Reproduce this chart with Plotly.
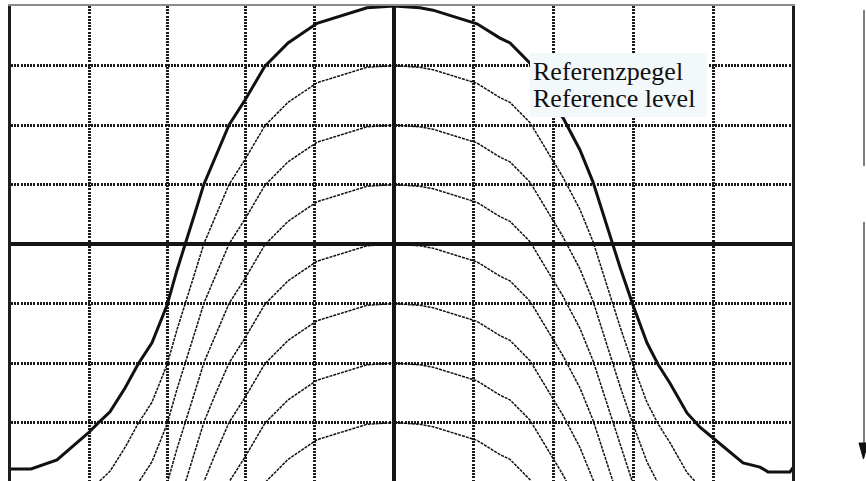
import plotly.graph_objects as go

# Frequency offset from centre, in screen divisions
offset_div = [-4.874, -4.583, -4.255, -3.965, -3.864, -3.737, -3.586, -3.396, -3.232,
              -3.056, -2.866, -2.740, -2.626, -2.513, -2.399, -2.260, -2.083, -1.881,
              -1.629, -1.338, -0.972, -0.341, 0.0, 0.328, 0.492, 1.048, 1.338, 1.465,
              1.717, 2.134, 2.348, 2.513, 2.626, 2.753, 2.854, 3.018, 3.194, 3.333,
              3.485, 3.699, 3.864, 4.028, 4.407, 4.621, 4.722, 5.000, 5.038]
# Level of the thick reference curve, dB
ref_level_db = [-77.8, -77.8, -76.3, -72.9, -71.8, -70.1, -68.2, -64.2, -60.2,
                -56.6, -50.3, -44.4, -39.7, -34.8, -29.9, -25.4, -20.0, -15.8,
                -10.1, -6.2, -2.9, -0.3, 0.0, -0.3, -0.7, -3.0, -5.4, -6.2,
                -9.6, -18.8, -24.2, -29.6, -34.3, -39.3, -43.9, -50.3, -56.6, -60.2,
                -63.4, -68.4, -70.8, -72.6, -76.8, -77.5, -78.3, -78.3, -77.6]
# Attenuation steps of the thin curves, dB below the reference
step_attenuation_db = [10, 20, 30, 40, 50, 60, 70]
# Grid positions
grid_x_div = [-3.851, -2.866, -1.869, -1.010, 1.010, 2.020, 3.018, 4.040]
grid_y_db = [-10, -20, -30, -50, -60, -70]
center_x_div = 0.0
center_y_db = -40
label_lines = ["Referenzpegel", "Reference level"]

fig = go.Figure()
for att in step_attenuation_db:
    fig.add_trace(go.Scatter(
        x=offset_div, y=[v - att for v in ref_level_db], mode="lines",
        line=dict(color="#111111", width=1.5, dash="3px,1px"),
        hoverinfo="skip", showlegend=False))
fig.add_trace(go.Scatter(
    x=offset_div, y=ref_level_db, mode="lines",
    line=dict(color="#111111", width=3), hoverinfo="skip", showlegend=False))

L, R, T, B = 11, 74, 6, 0
W, H = 866, 481
px_per_div = 79.2
px_per_db = 5.95
plot_w = W - L - R
plot_h = H - T - B
x_min = -(394 - L) / px_per_div
x_max = (W - R - 394) / px_per_div
y_min = -plot_h / px_per_db

fig.update_layout(
    width=W, height=H, margin=dict(l=L, r=R, t=T, b=B, pad=0),
    paper_bgcolor="white", plot_bgcolor="white",
    showlegend=False,
    xaxis=dict(range=[x_min, x_max], tickvals=grid_x_div, showticklabels=False,
               ticks="", showgrid=True, gridcolor="#1a1a1a", gridwidth=2.5,
               griddash="2px,1.2px", zeroline=False, side="top",
               showline=True, linecolor="#8c8c8c", linewidth=2, mirror=False),
    yaxis=dict(range=[y_min, 0], tickvals=grid_y_db, showticklabels=False,
               ticks="", showgrid=True, gridcolor="#1a1a1a", gridwidth=2.5,
               griddash="2px,1.2px", zeroline=False,
               showline=True, linecolor="#1e1e1e", linewidth=3, mirror=True),
)


def px_to_paper_x(px):
    return (px - L) / plot_w


def py_to_paper_y(py):
    return (H - B - py) / plot_h


# centre cross lines
fig.add_shape(type="line", xref="x", yref="paper", x0=center_x_div, x1=center_x_div,
              y0=0, y1=1, line=dict(color="#151515", width=4), layer="between")
fig.add_shape(type="line", xref="paper", yref="y", x0=0, x1=1,
              y0=center_y_db, y1=center_y_db, line=dict(color="#151515", width=4),
              layer="between")

# label box (covers curves and grid)
fig.add_shape(type="rect", xref="paper", yref="paper",
              x0=px_to_paper_x(530), x1=px_to_paper_x(707),
              y0=py_to_paper_y(117), y1=py_to_paper_y(53),
              fillcolor="#f3f8fb", line=dict(width=0), layer="above")
for text, yc in zip(label_lines, [72, 98]):
    fig.add_annotation(
        x=px_to_paper_x(532), y=py_to_paper_y(yc), xref="paper", yref="paper",
        xanchor="left", yanchor="middle", text=text, showarrow=False,
        font=dict(family="Liberation Serif", size=26, color="#111111"),
        borderpad=0)

# right-hand marker lines and arrow
fig.add_shape(type="line", xref="paper", yref="paper",
              x0=px_to_paper_x(864), x1=px_to_paper_x(864),
              y0=py_to_paper_y(10), y1=py_to_paper_y(166),
              line=dict(color="#555555", width=1.5))
fig.add_shape(type="line", xref="paper", yref="paper",
              x0=px_to_paper_x(864), x1=px_to_paper_x(864),
              y0=py_to_paper_y(222), y1=py_to_paper_y(446),
              line=dict(color="#555555", width=1.5))
tri = "M {:.4f},{:.4f} L {:.4f},{:.4f} L {:.4f},{:.4f} Z".format(
    px_to_paper_x(859), py_to_paper_y(443),
    px_to_paper_x(868), py_to_paper_y(443),
    px_to_paper_x(863.5), py_to_paper_y(459))
fig.add_shape(type="path", xref="paper", yref="paper", path=tri,
              fillcolor="#111111", line=dict(color="#111111", width=1))

fig.write_html("out.html", config={"displayModeBar": False},
               post_script="document.body.style.margin='0px';document.body.style.overflow='hidden';")
